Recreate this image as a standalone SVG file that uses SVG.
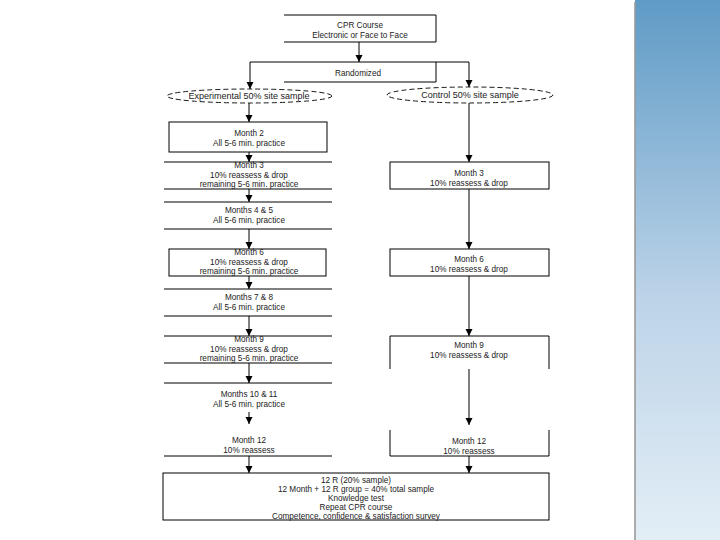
<svg xmlns="http://www.w3.org/2000/svg" width="720" height="540" viewBox="0 0 720 540">
<defs>
<linearGradient id="bar" x1="0" y1="0" x2="0" y2="1">
<stop offset="0" stop-color="#5f9bc6"/>
<stop offset="0.55" stop-color="#bcd3e8"/>
<stop offset="1" stop-color="#e3eef6"/>
</linearGradient>
<marker id="ah" markerUnits="userSpaceOnUse" markerWidth="8" markerHeight="9" refX="7" refY="3.5" orient="auto">
<path d="M0,0 L7,3.5 L0,7 Z" fill="#000"/>
</marker>
<style>
.ln{fill:none;stroke:#000;stroke-width:1}
.el{fill:none;stroke:#000;stroke-width:0.9;stroke-dasharray:5 3}
.cn{fill:none;stroke:#000;stroke-width:1;marker-end:url(#ah)}
text{font-family:"Liberation Sans",Arial,sans-serif;font-size:8.2px;fill:#222;text-anchor:middle}
.big{font-size:9px}
</style>
</defs>
<rect width="720" height="540" fill="#fff"/>
<rect x="635" y="0" width="85" height="540" fill="url(#bar)"/>
<line x1="635" y1="2" x2="635" y2="540" stroke="#9a9a9a" stroke-width="1.6"/>

<g id="cpr">
<path class="ln" d="M284,15 H436 V42 H284"/>
<text x="360" y="28">CPR Course</text>
<text x="360" y="37.5">Electronic or Face to Face</text>
</g>
<g id="randomized">
<path class="ln" d="M284,62 H436 V82 H284"/>
<text x="358" y="76">Randomized</text>
</g>
<g id="experimental">
<ellipse class="el" cx="249.5" cy="96" rx="82.5" ry="7"/>
<text class="big" x="249" y="99">Experimental 50% site sample</text>
</g>
<g id="control">
<ellipse class="el" cx="470" cy="95" rx="83" ry="8"/>
<text class="big" x="470" y="98">Control 50% site sample</text>
</g>

<g id="e-month2">
<rect class="ln" x="169" y="122" width="158" height="30"/>
<text x="249" y="136">Month 2</text>
<text x="249" y="145.5">All 5-6 min. practice</text>
</g>
<g id="e-month3">
<path class="ln" d="M164,162 H332 M164,189 H332"/>
<text x="249" y="168">Month 3</text>
<text x="249" y="177.5">10% reassess &amp; drop</text>
<text x="249" y="187">remaining 5-6 min. practice</text>
</g>
<g id="e-month45">
<path class="ln" d="M164,202 H332 M164,229 H332"/>
<text x="249" y="213">Months 4 &amp; 5</text>
<text x="249" y="222.5">All 5-6 min. practice</text>
</g>
<g id="e-month6">
<rect class="ln" x="169" y="249" width="157" height="27"/>
<text x="249" y="255">Month 6</text>
<text x="249" y="264.5">10% reassess &amp; drop</text>
<text x="249" y="274">remaining 5-6 min. practice</text>
</g>
<g id="e-month78">
<path class="ln" d="M164,289 H332 M164,316 H332"/>
<text x="249" y="300">Months 7 &amp; 8</text>
<text x="249" y="309.5">All 5-6 min. practice</text>
</g>
<g id="e-month9">
<path class="ln" d="M164,336 H332 M164,363 H332"/>
<text x="249" y="342">Month 9</text>
<text x="249" y="351.5">10% reassess &amp; drop</text>
<text x="249" y="361">remaining 5-6 min. practice</text>
</g>
<g id="e-month1011">
<path class="ln" d="M164,383 H332"/>
<text x="249" y="397">Months 10 &amp; 11</text>
<text x="249" y="406.5">All 5-6 min. practice</text>
</g>
<g id="e-month12">
<path class="ln" d="M164,456 H332"/>
<text x="249" y="443">Month 12</text>
<text x="249" y="452.5">10% reassess</text>
</g>

<g id="c-month3">
<rect class="ln" x="390" y="162" width="159" height="27"/>
<text x="469" y="176">Month 3</text>
<text x="469" y="185.5">10% reassess &amp; drop</text>
</g>
<g id="c-month6">
<rect class="ln" x="390" y="249" width="159" height="27"/>
<text x="469" y="262">Month 6</text>
<text x="469" y="271.5">10% reassess &amp; drop</text>
</g>
<g id="c-month9">
<path class="ln" d="M390,369 V336 H549 V369"/>
<text x="469" y="348">Month 9</text>
<text x="469" y="358">10% reassess &amp; drop</text>
</g>
<g id="c-month12">
<path class="ln" d="M390,430 V456 H549 V430"/>
<text x="469" y="444">Month 12</text>
<text x="469" y="453.5">10% reassess</text>
</g>

<g id="final">
<rect class="ln" x="163" y="473" width="386" height="47"/>
<text x="356" y="483">12 R  (20% sample)</text>
<text x="356" y="492">12 Month + 12 R group = 40% total sample</text>
<text x="356" y="501">Knowledge test</text>
<text x="356" y="510">Repeat CPR course</text>
<text x="356" y="519">Competence, confidence &amp; satisfaction survey</text>
</g>

<g id="connectors">
<path class="cn" d="M359,42 V62"/>
<path class="cn" d="M284,62 H250 V89"/>
<path class="cn" d="M436,62 H469 V87"/>
<path class="cn" d="M249,103 V122"/>
<path class="cn" d="M249,152 V162"/>
<path class="cn" d="M249,189 V202"/>
<path class="cn" d="M249,229 V249"/>
<path class="cn" d="M249,276 V289"/>
<path class="cn" d="M249,316 V336"/>
<path class="cn" d="M249,363 V383"/>
<path class="cn" d="M249,412 V424"/>
<path class="cn" d="M249,456 V473"/>
<path class="cn" d="M469,103 V162"/>
<path class="cn" d="M469,189 V249"/>
<path class="cn" d="M469,276 V336"/>
<path class="cn" d="M469,369 V425"/>
<path class="cn" d="M469,456 V473"/>
</g>
</svg>
